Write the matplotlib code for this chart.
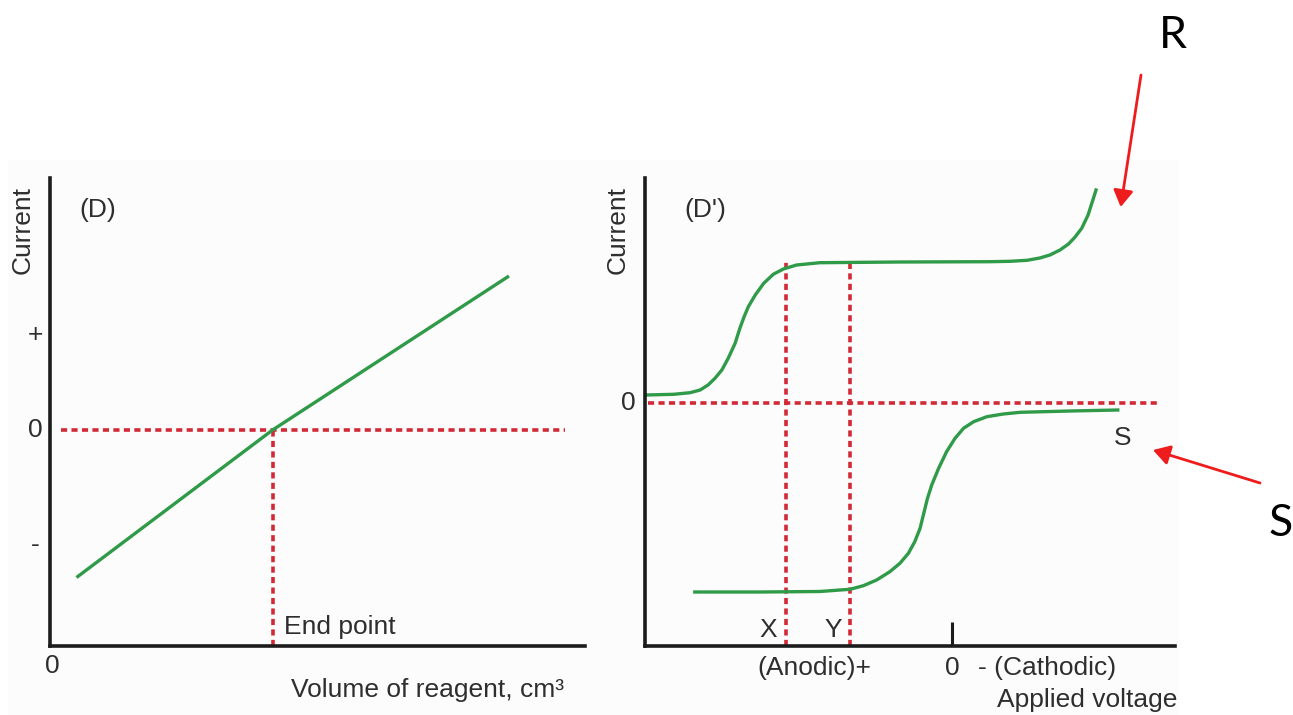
import matplotlib
matplotlib.use("Agg")
import matplotlib.pyplot as plt
from matplotlib.patches import Rectangle

plt.rcParams["font.family"] = ["Liberation Sans", "DejaVu Sans"]

# ---- panel D: current vs volume of reagent (straight line through end point)
vol = [0.495, 4.16, 8.58]
cur = [-1.475, 0.0, 1.54]
end_point = 4.16
d_ticks = [0.95, 0.0, -1.15]
d_tick_labels = ["+", "0", "-"]

# ---- panel D': current vs applied voltage (two polarographic waves)
r_volt = [0.03, 0.54, 0.85, 1.04, 1.19, 1.32, 1.45, 1.57, 1.70, 1.79, 1.87, 1.95, 2.08, 2.24,
          2.42, 2.61, 2.86, 3.30, 4.81, 6.51, 6.89, 7.21, 7.45, 7.64, 7.83, 7.99, 8.11, 8.24,
          8.36, 8.51]
r_cur = [0.08, 0.087, 0.103, 0.13, 0.18, 0.247, 0.33, 0.447, 0.597, 0.747, 0.863, 0.963, 1.08, 1.197,
         1.287, 1.34, 1.38, 1.403, 1.41, 1.413, 1.417, 1.427, 1.45, 1.48, 1.53, 1.59, 1.657, 1.747,
         1.88, 2.13]
s_volt = [0.94, 2.17, 3.30, 3.68, 3.87, 4.12, 4.37, 4.62, 4.81, 4.97, 5.09, 5.19, 5.26, 5.33,
          5.41, 5.54, 5.69, 5.85, 6.01, 6.20, 6.45, 6.76, 7.08, 8.02, 8.92]
s_cur = [-1.89, -1.89, -1.885, -1.87, -1.863, -1.827, -1.77, -1.687, -1.603, -1.503, -1.387, -1.253,
         -1.103, -0.953, -0.82, -0.653, -0.487, -0.353, -0.253, -0.187, -0.137, -0.11, -0.093,
         -0.08, -0.07]
x_pos = 2.66
y_pos = 3.87
zero_volt = 5.79
plateau = 1.41

GREEN = "#2f9a48"
RED = "#d12a36"
AXIS = "#1c1c1c"
TEXT = "#2e2e2e"
DOT = (0, (1.7, 1.2))
FS = 19

W, H = 1293, 715
fig = plt.figure(figsize=(W / 100, H / 100), dpi=100)
fig.patches.append(Rectangle((8 / W, 0), 1170 / W, 555 / H, transform=fig.transFigure,
                             color="#fcfcfc", zorder=-10))


def style(ax):
    ax.patch.set_alpha(0)
    for s in ("top", "right"):
        ax.spines[s].set_visible(False)
    for s in ("left", "bottom"):
        ax.spines[s].set_linewidth(2.6)
        ax.spines[s].set_color(AXIS)
    ax.set_yticks([])
    ax.set_xticks([])


# left panel
ax1 = fig.add_axes([50 / W, 69 / H, 535 / W, 468 / H])
style(ax1)
ax1.set_xlim(0, 10)
ax1.set_ylim(-2.16, 2.52)
ax1.plot([0.2, 9.62], [0, 0], color=RED, lw=2.6, ls=DOT)
ax1.plot([end_point, end_point], [-2.16, 0], color=RED, lw=2.6, ls=DOT, clip_on=False)
ax1.plot(vol, cur, color=GREEN, lw=2.4, solid_capstyle="butt")
for t, lab in zip(d_ticks, d_tick_labels):
    ax1.text(-0.28, t, lab, ha="center", va="center", fontsize=FS, color=TEXT)
ax1.text(0.05, -2.36, "0", ha="center", va="center", fontsize=FS, color=TEXT)
ax1.text(0.9, 2.2, "(D)", ha="center", va="center", fontsize=FS, color=TEXT)
ax1.text(end_point + 0.22, -1.97, "End point", ha="left", va="center", fontsize=FS, color=TEXT)
ax1.text(4.5, -2.6, "Volume of reagent, cm³", ha="left", va="center", fontsize=FS, color=TEXT)
ax1.text(-0.52, 2.0, "Current", rotation=90, ha="center", va="center", fontsize=FS, color=TEXT)

# right panel
ax2 = fig.add_axes([645 / W, 69 / H, 530 / W, 468 / H])
style(ax2)
ax2.set_xlim(0, 10)
ax2.set_ylim(-2.43, 2.25)
ax2.set_xticks([zero_volt])
ax2.set_xticklabels([""])
ax2.tick_params(axis="x", direction="in", length=17, width=2.2, color=AXIS)
ax2.plot([0.06, 9.68], [0, 0], color=RED, lw=2.6, ls=DOT)
for xv in (x_pos, y_pos):
    ax2.plot([xv, xv], [-2.43, plateau], color=RED, lw=2.6, ls=DOT, clip_on=False)
ax2.plot(r_volt, r_cur, color=GREEN, lw=2.4, solid_joinstyle="round")
ax2.plot(s_volt, s_cur, color=GREEN, lw=2.4, solid_joinstyle="round")
ax2.text(-0.32, 0.0, "0", ha="center", va="center", fontsize=FS, color=TEXT)
ax2.text(1.13, 1.93, "(D')", ha="center", va="center", fontsize=FS, color=TEXT)
ax2.text(-0.52, 1.73, "Current", rotation=90, ha="center", va="center", fontsize=FS, color=TEXT)
ax2.text(9.02, -0.35, "S", ha="center", va="center", fontsize=FS, color=TEXT)
ax2.text(2.32, -2.27, "X", ha="center", va="center", fontsize=FS, color=TEXT)
ax2.text(3.55, -2.27, "Y", ha="center", va="center", fontsize=FS, color=TEXT)
ax2.text(3.2, -2.65, "(Anodic)+", ha="center", va="center", fontsize=FS, color=TEXT)
ax2.text(zero_volt, -2.65, "0", ha="center", va="center", fontsize=FS, color=TEXT)
ax2.text(6.28, -2.65, "- (Cathodic)", ha="left", va="center", fontsize=FS, color=TEXT)
ax2.text(6.64, -2.97, "Applied voltage", ha="left", va="center", fontsize=FS, color=TEXT)

# call-out labels with red arrows
fig.text(1173 / W, 680 / H, "R", ha="center", va="center", fontsize=32, family="Lato", color="black")
fig.text(1281 / W, 192 / H, "S", ha="center", va="center", fontsize=32, family="Lato", color="black")
arrow = dict(arrowstyle="-|>,head_length=1.0,head_width=0.6", color="#ee1c1c", lw=2, shrinkA=0, shrinkB=0)
fig.add_artist(plt.Annotation("", xy=(1120.7, 508), xytext=(1141, 640),
                              xycoords="figure pixels", textcoords="figure pixels", arrowprops=arrow))
fig.add_artist(plt.Annotation("", xy=(1153, 265), xytext=(1260, 232),
                              xycoords="figure pixels", textcoords="figure pixels", arrowprops=arrow))

fig.savefig("out.png", dpi=100)
